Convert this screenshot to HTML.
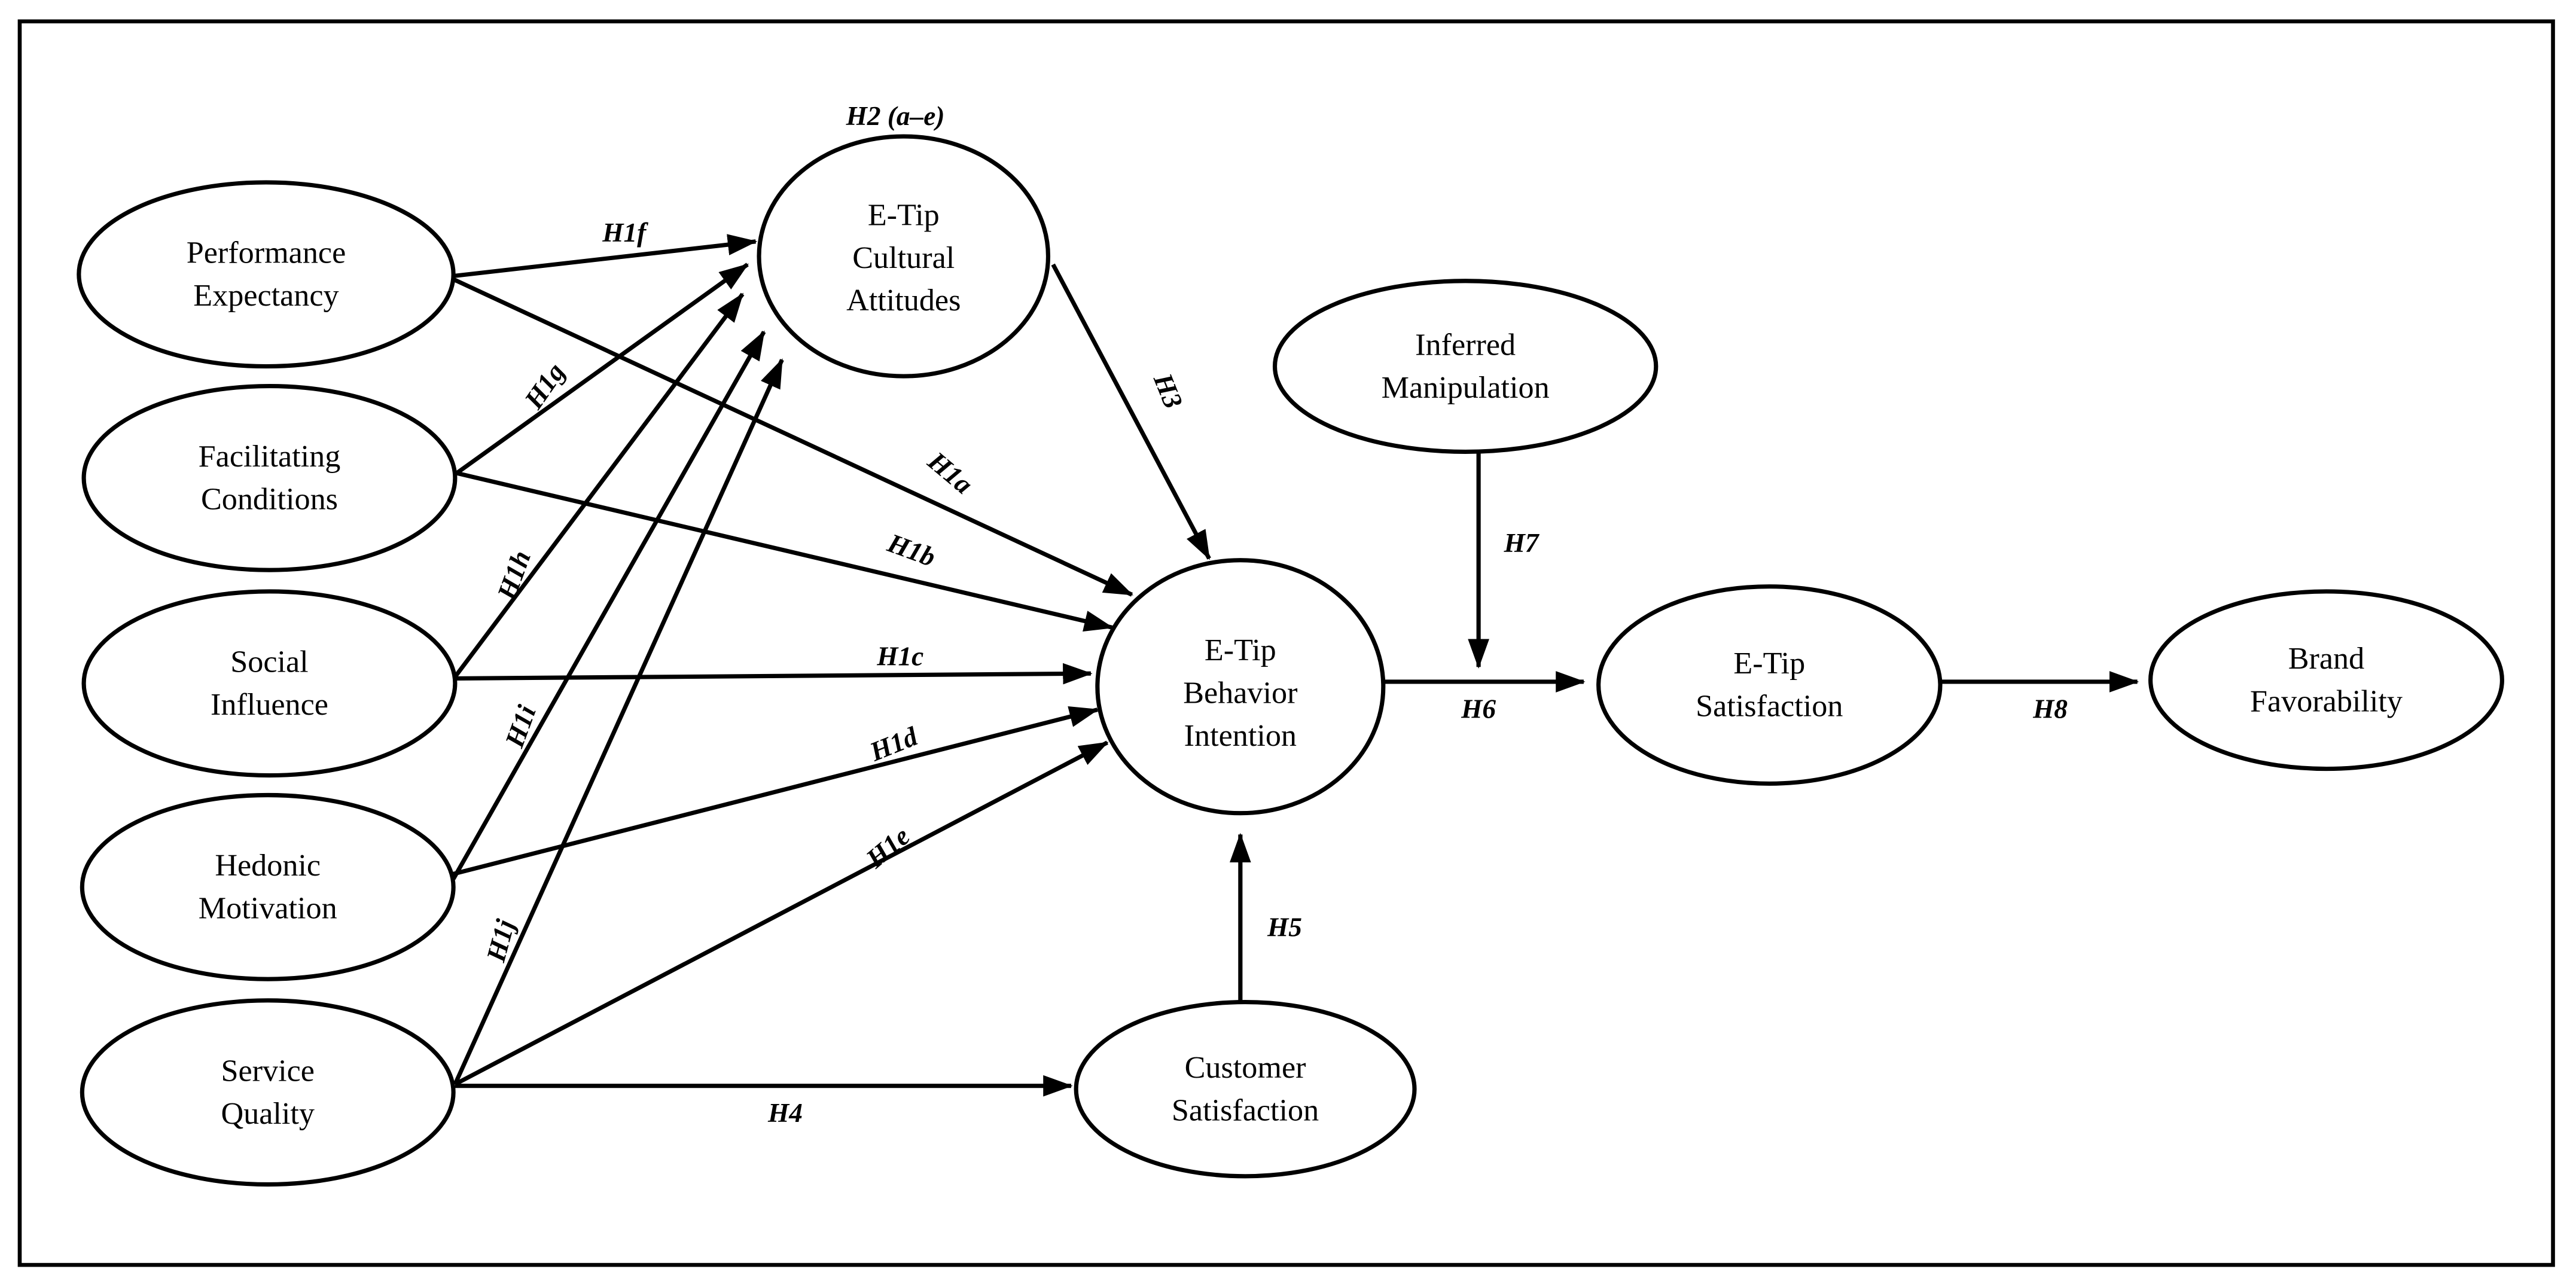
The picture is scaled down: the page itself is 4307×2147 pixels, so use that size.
<!DOCTYPE html>
<html><head><meta charset="utf-8"><style>
html,body{margin:0;padding:0;background:#fff;}
svg{display:block;}
text{font-family:"Liberation Serif",serif;fill:#000;}
.n{font-size:19px;text-anchor:middle;}
.l{font-size:16.5px;font-weight:bold;font-style:italic;text-anchor:middle;}
</style></head><body>
<svg width="4307" height="2147" viewBox="0 0 1568 781.6" xmlns="http://www.w3.org/2000/svg">
<defs>
<marker id="a" markerUnits="userSpaceOnUse" markerWidth="18" markerHeight="13" refX="17" refY="6.5" orient="auto">
<path d="M0,0 L18,6.5 L0,13 z" fill="#000"/>
</marker>
</defs>
<rect x="12" y="13" width="1542" height="757" fill="none" stroke="#000" stroke-width="2.4"/>
<g fill="none" stroke="#000" stroke-width="2.6">
<ellipse cx="162" cy="167" rx="114" ry="56"/>
<ellipse cx="164" cy="291" rx="113" ry="56"/>
<ellipse cx="164" cy="416" rx="113" ry="56"/>
<ellipse cx="163" cy="540" rx="113" ry="56"/>
<ellipse cx="163" cy="665" rx="113" ry="56"/>
<ellipse cx="550" cy="156" rx="88" ry="73"/>
<ellipse cx="755" cy="418" rx="87" ry="77"/>
<ellipse cx="758" cy="663" rx="103" ry="53"/>
<ellipse cx="892" cy="223" rx="116" ry="52"/>
<ellipse cx="1077" cy="417" rx="104" ry="60"/>
<ellipse cx="1416" cy="414" rx="107" ry="54"/>
</g>
<g stroke="#000" stroke-width="2.6" marker-end="url(#a)">
<line x1="276" y1="168" x2="460" y2="147"/>
<line x1="276" y1="170" x2="689" y2="362"/>
<line x1="278" y1="288" x2="677" y2="382"/>
<line x1="278" y1="288" x2="455" y2="161"/>
<line x1="277" y1="412" x2="452" y2="179"/>
<line x1="276" y1="535" x2="465" y2="202"/>
<line x1="277" y1="660" x2="476" y2="219"/>
<line x1="277" y1="413" x2="664" y2="410"/>
<line x1="276" y1="532" x2="668" y2="432"/>
<line x1="277" y1="660" x2="674" y2="452"/>
<line x1="641" y1="161" x2="736" y2="340"/>
<line x1="277" y1="661" x2="652" y2="661"/>
<line x1="755" y1="610" x2="755" y2="508"/>
<line x1="900" y1="275" x2="900" y2="406"/>
<line x1="843" y1="415" x2="964" y2="415"/>
<line x1="1181" y1="415" x2="1301" y2="415"/>
</g>
<g class="n">
<text x="162" y="160">Performance</text><text x="162" y="186">Expectancy</text>
<text x="164" y="284">Facilitating</text><text x="164" y="310">Conditions</text>
<text x="164" y="409">Social</text><text x="164" y="435">Influence</text>
<text x="163" y="533">Hedonic</text><text x="163" y="559">Motivation</text>
<text x="163" y="658">Service</text><text x="163" y="684">Quality</text>
<text x="550" y="137">E-Tip</text><text x="550" y="163">Cultural</text><text x="550" y="189">Attitudes</text>
<text x="755" y="402">E-Tip</text><text x="755" y="428">Behavior</text><text x="755" y="454">Intention</text>
<text x="758" y="656">Customer</text><text x="758" y="682">Satisfaction</text>
<text x="892" y="216">Inferred</text><text x="892" y="242">Manipulation</text>
<text x="1077" y="410">E-Tip</text><text x="1077" y="436">Satisfaction</text>
<text x="1416" y="407">Brand</text><text x="1416" y="433">Favorability</text>
</g>
<g class="l">
<text x="545" y="76">H2 (a–e)</text>
<text x="380" y="147">H1f</text>
<text transform="translate(336,238) rotate(-55)">H1g</text>
<text transform="translate(575,292) rotate(40)">H1a</text>
<text transform="translate(553,340) rotate(20)">H1b</text>
<text transform="translate(706,240) rotate(68)">H3</text>
<text transform="translate(318,352) rotate(-70)">H1h</text>
<text x="548" y="405">H1c</text>
<text transform="translate(322,444) rotate(-70)">H1i</text>
<text transform="translate(546,458) rotate(-22)">H1d</text>
<text transform="translate(544,520) rotate(-40)">H1e</text>
<text transform="translate(310,574) rotate(-75)">H1j</text>
<text x="478" y="683">H4</text>
<text x="782" y="570">H5</text>
<text x="926" y="336">H7</text>
<text x="900" y="437">H6</text>
<text x="1248" y="437">H8</text>
</g>
</svg>
</body></html>
